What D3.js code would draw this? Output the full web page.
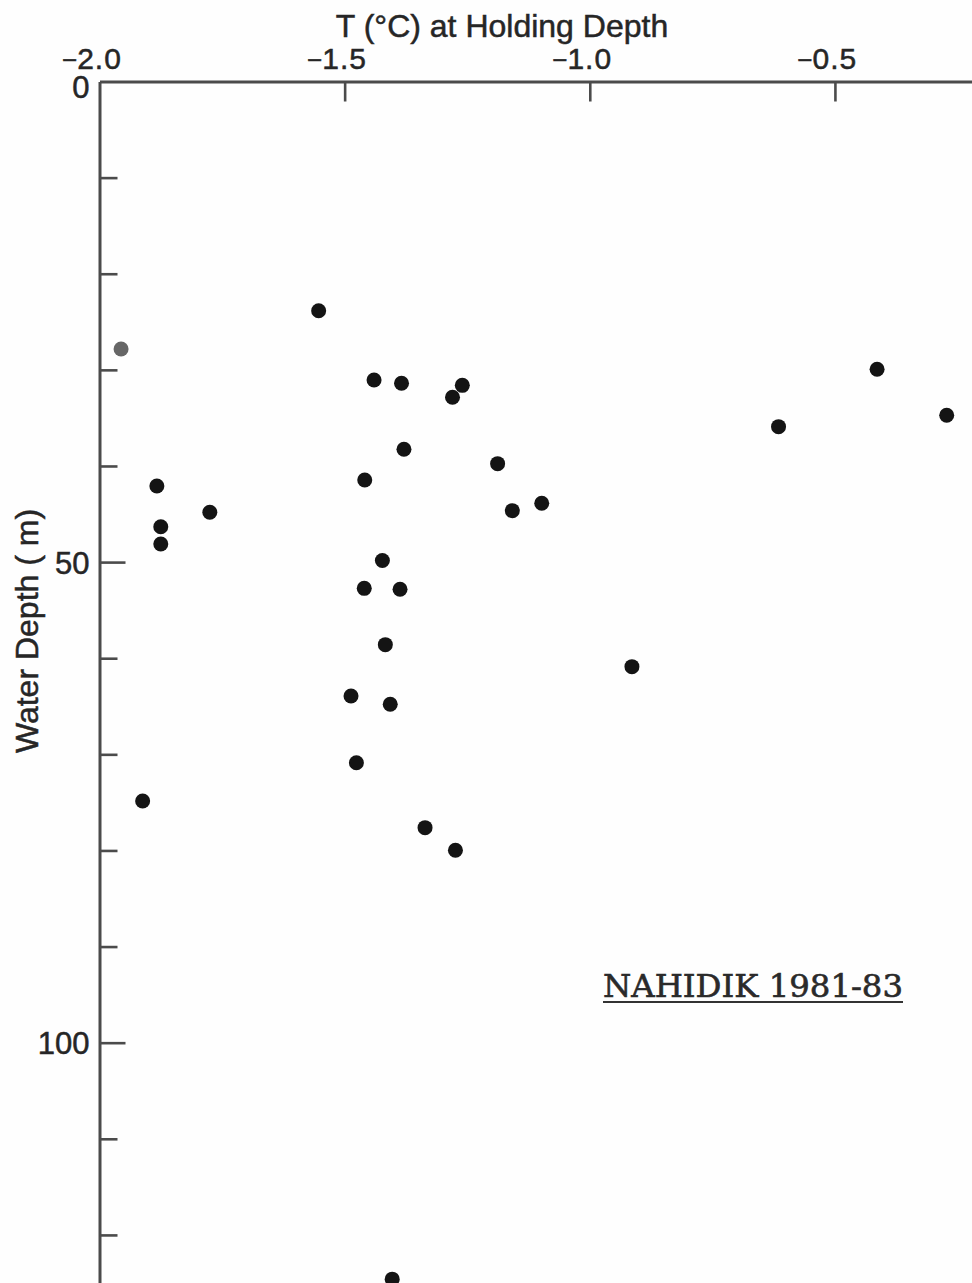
<!DOCTYPE html>
<html>
<head>
<meta charset="utf-8">
<script src="https://cdn.jsdelivr.net/npm/d3@7"></script>
<style>
  html, body { margin: 0; padding: 0; background: #fefefe; }
  svg { display: block; }
  .sans { font-family: "Liberation Sans", Arial, sans-serif; fill: #262626; stroke: #262626; stroke-width: 0.5; }
  .serif { font-family: "DejaVu Serif", "Liberation Serif", serif; fill: #2a2a2a; stroke: #2a2a2a; stroke-width: 0.6; }
</style>
</head>
<body>
<svg id="chart" width="972" height="1283"></svg>
<script>
// Holding temperature (°C) and water depth (m) for each record
const temperature = [
  -1.553, -1.440, -1.459, -1.883, -1.775, -1.875, -1.875, -1.423,
  -1.384, -1.260, -1.280, -1.379, -1.188, -1.158, -1.098,
  -1.460, -1.387, -1.417, -0.914, -1.487, -1.407, -1.476,
  -1.336, -1.274, -0.414, -0.272, -0.615, -1.912, -1.403
];
const depth = [
  23.85, 31.05, 41.46, 42.08, 44.82, 46.32, 48.12, 49.83,
  31.40, 31.61, 32.85, 38.26, 39.76, 44.65, 43.88,
  52.73, 52.83, 58.59, 60.88, 63.93, 64.79, 70.87,
  77.63, 79.98, 29.94, 34.73, 35.91, 74.85, 124.6
];
// Single record drawn in grey
const greyTemperature = [-1.956];
const greyDepth = [27.83];

const xTickValues = [-2.0, -1.5, -1.0, -0.5];
const yMajorTicks = [0, 50, 100];
const yMinorTicks = [10, 20, 30, 40, 60, 70, 80, 90, 110, 120];

const xTitle = "T (°C) at Holding Depth";
const yTitle = "Water Depth ( m)";
const stationLabel = "NAHIDIK 1981-83";

const svg = d3.select("#chart");
const axisColor = "#4b4b4b";

const x = d3.scaleLinear().domain([-2.0, -0.22]).range([99.5, 972.2]);
const y = d3.scaleLinear().domain([0, 125.2]).range([81.5, 1284.9]);

// Top (temperature) axis: ticks pointing into the plot
const xAxis = d3.axisTop(x)
  .tickValues(xTickValues.slice(1))
  .tickSizeInner(-20)
  .tickSizeOuter(0)
  .tickFormat("");
const gx = svg.append("g").attr("transform", `translate(0,${y(0)})`).call(xAxis);
gx.select(".domain").attr("stroke", axisColor).attr("stroke-width", 3);
gx.selectAll(".tick line").attr("stroke", axisColor).attr("stroke-width", 2.6);

// Tick labels: digits centred on the tick, minus sign hanging to the left
const fmt = d3.format(".1f");
xTickValues.forEach(v => {
  const digits = fmt(Math.abs(v));
  const t = svg.append("text")
    .attr("class", "sans")
    .attr("x", x(v)).attr("y", 69)
    .attr("text-anchor", "middle")
    .attr("font-size", 30)
    .attr("letter-spacing", 1)
    .text(digits);
  const w = t.node().getComputedTextLength();
  if (v < 0) {
    svg.append("text")
      .attr("class", "sans")
      .attr("x", x(v) - w / 2).attr("y", 69)
      .attr("text-anchor", "end")
      .attr("font-size", 26)
      .text("\u2212");
  }
});

svg.append("text")
  .attr("class", "sans")
  .attr("x", 502).attr("y", 37)
  .attr("text-anchor", "middle")
  .attr("font-size", 32)
  .text(xTitle);

// Left (depth) axis: long ticks every 50 m, short ticks every 10 m
const yMinor = d3.axisLeft(y)
  .tickValues(yMinorTicks)
  .tickSizeInner(-18)
  .tickSizeOuter(0)
  .tickFormat("");
const gyMinor = svg.append("g").attr("transform", `translate(${x(-2.0)},0)`).call(yMinor);
gyMinor.select(".domain").attr("stroke", axisColor).attr("stroke-width", 3);
gyMinor.selectAll(".tick line").attr("stroke", axisColor).attr("stroke-width", 2.6);

const yMajor = d3.axisLeft(y)
  .tickValues(yMajorTicks)
  .tickSizeInner(-26)
  .tickSizeOuter(0)
  .tickFormat(d3.format("d"));
const gyMajor = svg.append("g").attr("transform", `translate(${x(-2.0)},0)`).call(yMajor);
gyMajor.select(".domain").remove();
gyMajor.selectAll(".tick line").attr("stroke", axisColor).attr("stroke-width", 2.6);
gyMajor.selectAll(".tick").filter(d => d === 0).select("line").remove();
gyMajor.selectAll(".tick text")
  .attr("class", "sans")
  .attr("x", -10)
  .attr("y", d => (d === 0 ? 5 : 0))
  .attr("text-anchor", "end")
  .attr("dy", "0.36em")
  .attr("font-size", 31);

svg.append("text")
  .attr("class", "sans")
  .attr("transform", `translate(38,631) rotate(-90)`)
  .attr("text-anchor", "middle")
  .attr("font-size", 32)
  .text(yTitle);

// Data points
const pts = temperature.map((t, i) => ({ t, d: depth[i] }));
svg.append("g").selectAll("circle")
  .data(pts)
  .join("circle")
  .attr("cx", p => x(p.t))
  .attr("cy", p => y(p.d))
  .attr("r", 7.5)
  .attr("fill", "#141414");

const greyPts = greyTemperature.map((t, i) => ({ t, d: greyDepth[i] }));
svg.append("g").selectAll("circle")
  .data(greyPts)
  .join("circle")
  .attr("cx", p => x(p.t))
  .attr("cy", p => y(p.d))
  .attr("r", 7.5)
  .attr("fill", "#666666");

// Station label, underlined
svg.append("text")
  .attr("class", "serif")
  .attr("x", 603).attr("y", 997)
  .attr("font-size", 31)
  .attr("textLength", 300)
  .attr("lengthAdjust", "spacingAndGlyphs")
  .text(stationLabel);
svg.append("line")
  .attr("x1", 603).attr("x2", 903)
  .attr("y1", 1002).attr("y2", 1002)
  .attr("stroke", "#333").attr("stroke-width", 2.2);
</script>
</body>
</html>
